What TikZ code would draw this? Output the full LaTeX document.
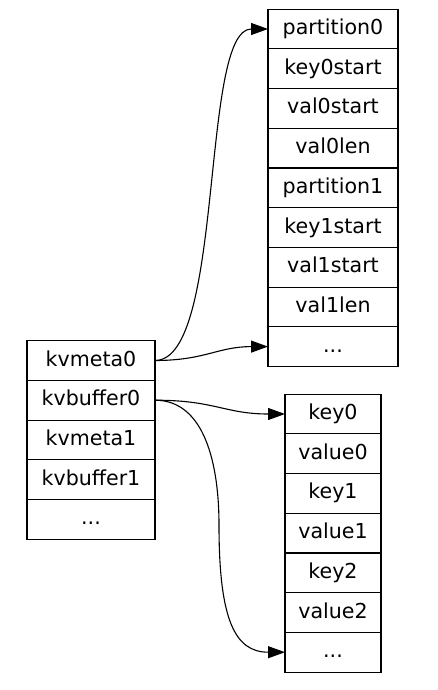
\documentclass[tikz,border=0pt]{standalone}
\usepackage{fontspec}
\setmainfont{DejaVu Sans}
\usetikzlibrary{arrows.meta, positioning}

\begin{document}
\begin{tikzpicture}[
                x=1pt, y=1pt,
                node distance=0pt,
                field/.style={draw, line width=1.1pt, inner sep=0pt, outer sep=0pt, minimum height=39.7pt, text height=15pt, text depth=4pt, font=\fontsize{20.6}{24}\selectfont},
                lfield/.style={field, minimum width=128pt},
                pfield/.style={field, minimum width=130pt},
                kfield/.style={field, minimum width=96pt},
                arrow/.style={-{Triangle[length=17pt,width=12pt]}, line width=1.1pt}
            ]
                \useasboundingbox (0,0) rectangle (438,-690);

                \node[lfield] (kvmeta0) at (91,-360.5) {kvmeta0};
                \node[lfield] (kvbuffer0) [below=of kvmeta0] {kvbuffer0};
                \node[lfield] (kvmeta1) [below=of kvbuffer0] {kvmeta1};
                \node[lfield] (kvbuffer1) [below=of kvmeta1] {kvbuffer1};
                \node[lfield] (kvdots) [below=of kvbuffer1] {...};

                \node[pfield] (partition0) at (333,-29) {partition0};
                \node[pfield] (key0start) [below=of partition0] {key0start};
                \node[pfield] (val0start) [below=of key0start] {val0start};
                \node[pfield] (val0len) [below=of val0start] {val0len};
                \node[pfield] (partition1) [below=of val0len] {partition1};
                \node[pfield] (key1start) [below=of partition1] {key1start};
                \node[pfield] (val1start) [below=of key1start] {val1start};
                \node[pfield] (val1len) [below=of val1start] {val1len};
                \node[pfield] (metadots) [below=of val1len] {...};

                \node[kfield] (key0) at (333,-414) {key0};
                \node[kfield] (value0) [below=of key0] {value0};
                \node[kfield] (key1) [below=of value0] {key1};
                \node[kfield] (value1) [below=of key1] {value1};
                \node[kfield] (key2) [below=of value1] {key2};
                \node[kfield] (value2) [below=of key2] {value2};
                \node[kfield] (bufdots) [below=of value2] {...};

                \coordinate (bend) at (219,-525);

                \draw[arrow] (kvmeta0.east) .. controls +(70,0) and +(-68,0) .. (partition0.west);
                \draw[arrow] (kvmeta0.east) .. controls +(50,0) and +(-50,0) .. (metadots.west);
                \draw[arrow] (kvbuffer0.east) .. controls +(60,0) and +(-60,0) .. (key0.west);
                \draw[arrow] (kvbuffer0.east) .. controls +(50,0) and +(0,60) .. (bend) .. controls +(0,-95) and +(-50,0) .. (bufdots.west);
            \end{tikzpicture}
\end{document}
